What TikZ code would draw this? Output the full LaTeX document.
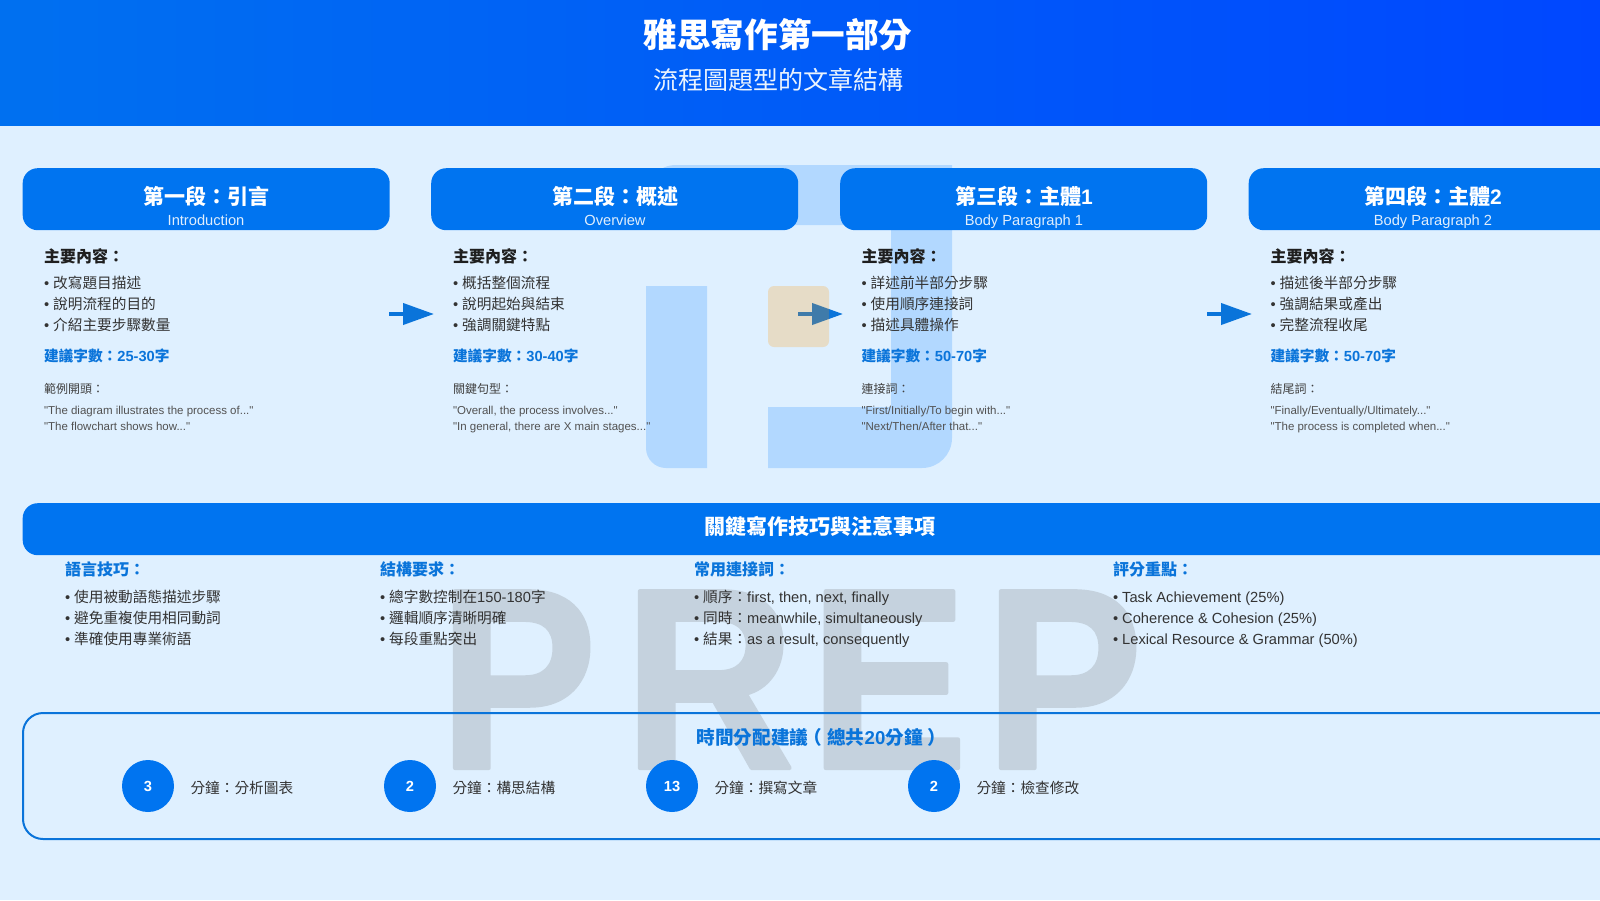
\documentclass[tikz,border=0pt]{standalone}
\usepackage{fontspec}
\setmainfont{Liberation Sans}[Ligatures=TeXOff]
\newfontfamily\cjkfam{Noto Sans CJK TC}
\newcommand{\C}[1]{{\cjkfam #1}}
\newcommand{\sz}[1]{\fontsize{#1}{#1}\selectfont}
\usetikzlibrary{arrows.meta}
\definecolor{pagebg}{RGB}{223,240,255}
\definecolor{cardblue}{RGB}{0,116,240}
\definecolor{headleft}{RGB}{0,112,240}
\definecolor{headright}{RGB}{0,71,255}
\definecolor{textblue}{RGB}{10,116,218}
\definecolor{linkblue}{RGB}{10,116,218}
\definecolor{logoblue}{RGB}{0,123,255}
\definecolor{logotan}{RGB}{255,150,0}
\definecolor{prepgrey}{RGB}{197,210,222}
\tikzset{
  x=1pt,y=-1pt,
  txt/.style={inner sep=0pt,outer sep=0pt,anchor=base west},
  ctr/.style={inner sep=0pt,outer sep=0pt,anchor=base},
  cardbox/.style={fill=cardblue,rounded corners=15pt,minimum width=367pt,minimum height=62pt,inner sep=0pt,anchor=north west},
  cardtitle/.style={ctr,text=white,font=\sz{21}\bfseries},
  cardsub/.style={ctr,text=white!88!cardblue,font=\sz{14.67}},
  mainhead/.style={txt,text=black!88,font=\sz{16}\bfseries},
  bodyline/.style={txt,text=black!80,font=\sz{14.67}},
  countline/.style={txt,text=textblue,font=\sz{14.67}\bfseries},
  smallhead/.style={txt,text=black!75,font=\sz{12}},
  quoteline/.style={txt,text=black!68,font=\sz{11.5}},
  colhead/.style={txt,text=textblue,font=\sz{16}\bfseries},
  flowarrow/.style={draw=linkblue,line width=4pt,-{Triangle[length=31pt,width=21pt]}},
  timecircle/.style={circle,fill=cardblue,minimum size=52pt,inner sep=0pt},
  timenum/.style={text=white,font=\sz{14.67}\bfseries,yshift=-.7pt}
}
\begin{document}
\begin{tikzpicture}
\useasboundingbox (0,0) rectangle (1600,900);
\fill[pagebg] (0,0) rectangle (1600,900);
\shade[left color=headleft,right color=headright] (0,0) rectangle (1600,125.5);
% arrows lie under the translucent logo
\coordinate (a1s) at (389,314); \coordinate (a1e) at (434,314);
\coordinate (a2s) at (798,314); \coordinate (a2e) at (843,314);
\coordinate (a3s) at (1207,314); \coordinate (a3e) at (1252,314);
\draw[flowarrow] (a1s) -- (a1e);
\draw[flowarrow] (a2s) -- (a2e);
\draw[flowarrow] (a3s) -- (a3e);
% watermark
\fill[logoblue,fill opacity=.2] (646,286) -- (707,286) -- (707,468) [rounded corners=20pt] -- (646,468) [sharp corners] -- cycle;
\fill[logoblue,fill opacity=.2] (768,407) -- (891,407) -- (891,225) -- (646,225) [rounded corners=30pt] -- (646,165) [sharp corners] -- (952,165) [rounded corners=30pt] -- (952,468) [sharp corners] -- (768,468) -- cycle;
\fill[logotan,fill opacity=.22,rounded corners=6pt] (768,286) rectangle (829,347);
\node[txt,text=prepgrey,font=\sz{257}\bfseries] (wm) at (439,768) {\scalebox{.92}[1]{\special{pdf:code q 2 Tr 1 j 1 J 4 w 0.7725 0.8235 0.8706 RG}P\kern29.7ptR\kern16.5ptE\kern19ptP\special{pdf:code Q}}};
% header
\node[ctr,text=white,font=\sz{33.6}\bfseries] (title) at (778,47) {\C{雅思寫作第一部分}};
\node[ctr,text=white!92!cardblue,font=\sz{25}] (subtitle) at (778,89) {\C{流程圖題型的文章結構}};
% cards
\node[cardbox] (card1) at (22.5,168) {};
\node[cardbox] (card2) at (431,168) {};
\node[cardbox] (card3) at (840,168) {};
\node[cardbox] (card4) at (1248.5,168) {};
\node[cardtitle] (c1t) at (206,204) {\C{第一段：引言}};
\node[cardsub] (c1s) at (206,225) {Introduction};
\node[cardtitle] (c2t) at (615,204) {\C{第二段：概述}};
\node[cardsub] (c2s) at (615,225) {Overview};
\node[cardtitle] (c3t) at (1024,204) {\C{第三段：主體}1};
\node[cardsub] (c3s) at (1024,225) {Body Paragraph 1};
\node[cardtitle] (c4t) at (1433,204) {\C{第四段：主體}2};
\node[cardsub] (c4s) at (1433,225) {Body Paragraph 2};
% column 1
\node[mainhead] (m1) at (44,262) {\C{主要內容：}};
\node[bodyline] (b11) at (44,288) {• \C{改寫題目描述}};
\node[bodyline] (b12) at (44,309) {• \C{說明流程的目的}};
\node[bodyline] (b13) at (44,330) {• \C{介紹主要步驟數量}};
\node[countline] (n1) at (44,361) {\C{建議字數：}25-30\C{字}};
\node[smallhead] (s1) at (44,393) {\C{範例開頭：}};
\node[quoteline] (q11) at (44,414) {"The diagram illustrates the process of..."};
\node[quoteline] (q12) at (44,430) {"The flowchart shows how..."};
% column 2
\node[mainhead] (m2) at (453,262) {\C{主要內容：}};
\node[bodyline] (b21) at (453,288) {• \C{概括整個流程}};
\node[bodyline] (b22) at (453,309) {• \C{說明起始與結束}};
\node[bodyline] (b23) at (453,330) {• \C{強調關鍵特點}};
\node[countline] (n2) at (453,361) {\C{建議字數：}30-40\C{字}};
\node[smallhead] (s2) at (453,393) {\C{關鍵句型：}};
\node[quoteline] (q21) at (453,414) {"Overall, the process involves..."};
\node[quoteline] (q22) at (453,430) {"In general, there are X main stages..."};
% column 3
\node[mainhead] (m3) at (861.5,262) {\C{主要內容：}};
\node[bodyline] (b31) at (861.5,288) {• \C{詳述前半部分步驟}};
\node[bodyline] (b32) at (861.5,309) {• \C{使用順序連接詞}};
\node[bodyline] (b33) at (861.5,330) {• \C{描述具體操作}};
\node[countline] (n3) at (861.5,361) {\C{建議字數：}50-70\C{字}};
\node[smallhead] (s3) at (861.5,393) {\C{連接詞：}};
\node[quoteline] (q31) at (861.5,414) {"First/Initially/To begin with..."};
\node[quoteline] (q32) at (861.5,430) {"Next/Then/After that..."};
% column 4
\node[mainhead] (m4) at (1270.5,262) {\C{主要內容：}};
\node[bodyline] (b41) at (1270.5,288) {• \C{描述後半部分步驟}};
\node[bodyline] (b42) at (1270.5,309) {• \C{強調結果或產出}};
\node[bodyline] (b43) at (1270.5,330) {• \C{完整流程收尾}};
\node[countline] (n4) at (1270.5,361) {\C{建議字數：}50-70\C{字}};
\node[smallhead] (s4) at (1270.5,393) {\C{結尾詞：}};
\node[quoteline] (q41) at (1270.5,414) {"Finally/Eventually/Ultimately..."};
\node[quoteline] (q42) at (1270.5,430) {"The process is completed when..."};
% skills bar
\node[fill=cardblue,rounded corners=15pt,minimum width=1594pt,minimum height=52pt,inner sep=0pt,anchor=north west] (bar) at (22.5,503) {};
\node[ctr,text=white,font=\sz{21}\bfseries] (bart) at (820,534) {\C{關鍵寫作技巧與注意事項}};
\node[colhead] (k1) at (65,575) {\C{語言技巧：}};
\node[bodyline] (k11) at (65,602) {• \C{使用被動語態描述步驟}};
\node[bodyline] (k12) at (65,623) {• \C{避免重複使用相同動詞}};
\node[bodyline] (k13) at (65,644) {• \C{準確使用專業術語}};
\node[colhead] (k2) at (380,575) {\C{結構要求：}};
\node[bodyline] (k21) at (380,602) {• \C{總字數控制在}150-180\C{字}};
\node[bodyline] (k22) at (380,623) {• \C{邏輯順序清晰明確}};
\node[bodyline] (k23) at (380,644) {• \C{每段重點突出}};
\node[colhead] (k3) at (694,575) {\C{常用連接詞：}};
\node[bodyline] (k31) at (694,602) {• \C{順序：}first, then, next, finally};
\node[bodyline] (k32) at (694,623) {• \C{同時：}meanwhile, simultaneously};
\node[bodyline] (k33) at (694,644) {• \C{結果：}as a result, consequently};
\node[colhead] (k4) at (1113,575) {\C{評分重點：}};
\node[bodyline] (k41) at (1113,602) {• Task Achievement (25\%)};
\node[bodyline] (k42) at (1113,623) {• Coherence \& Cohesion (25\%)};
\node[bodyline] (k43) at (1113,644) {• Lexical Resource \& Grammar (50\%)};
% time box
\node[draw=textblue,line width=2pt,rounded corners=20pt,minimum width=1620pt,minimum height=126pt,inner sep=0pt,anchor=north west] (tbox) at (22,712) {};
\node[ctr,text=textblue,font=\sz{18.67}\bfseries] (tt) at (819,744) {\C{時間分配建議\kern-5pt（\kern5pt總共}20\C{分鐘\kern5pt）\kern-5pt}};
\node[timecircle] (t1) at (148,786) {}; \node[timenum] at (t1) {3};
\node[timecircle] (t2) at (410,786) {}; \node[timenum] at (t2) {2};
\node[timecircle] (t3) at (672,786) {}; \node[timenum] at (t3) {13};
\node[timecircle] (t4) at (934,786) {}; \node[timenum] at (t4) {2};
\node[bodyline] (l1) at (190.5,793) {\C{分鐘：分析圖表}};
\node[bodyline] (l2) at (452.5,793) {\C{分鐘：構思結構}};
\node[bodyline] (l3) at (714.5,793) {\C{分鐘：撰寫文章}};
\node[bodyline] (l4) at (976.5,793) {\C{分鐘：檢查修改}};
\end{tikzpicture}
\end{document}
